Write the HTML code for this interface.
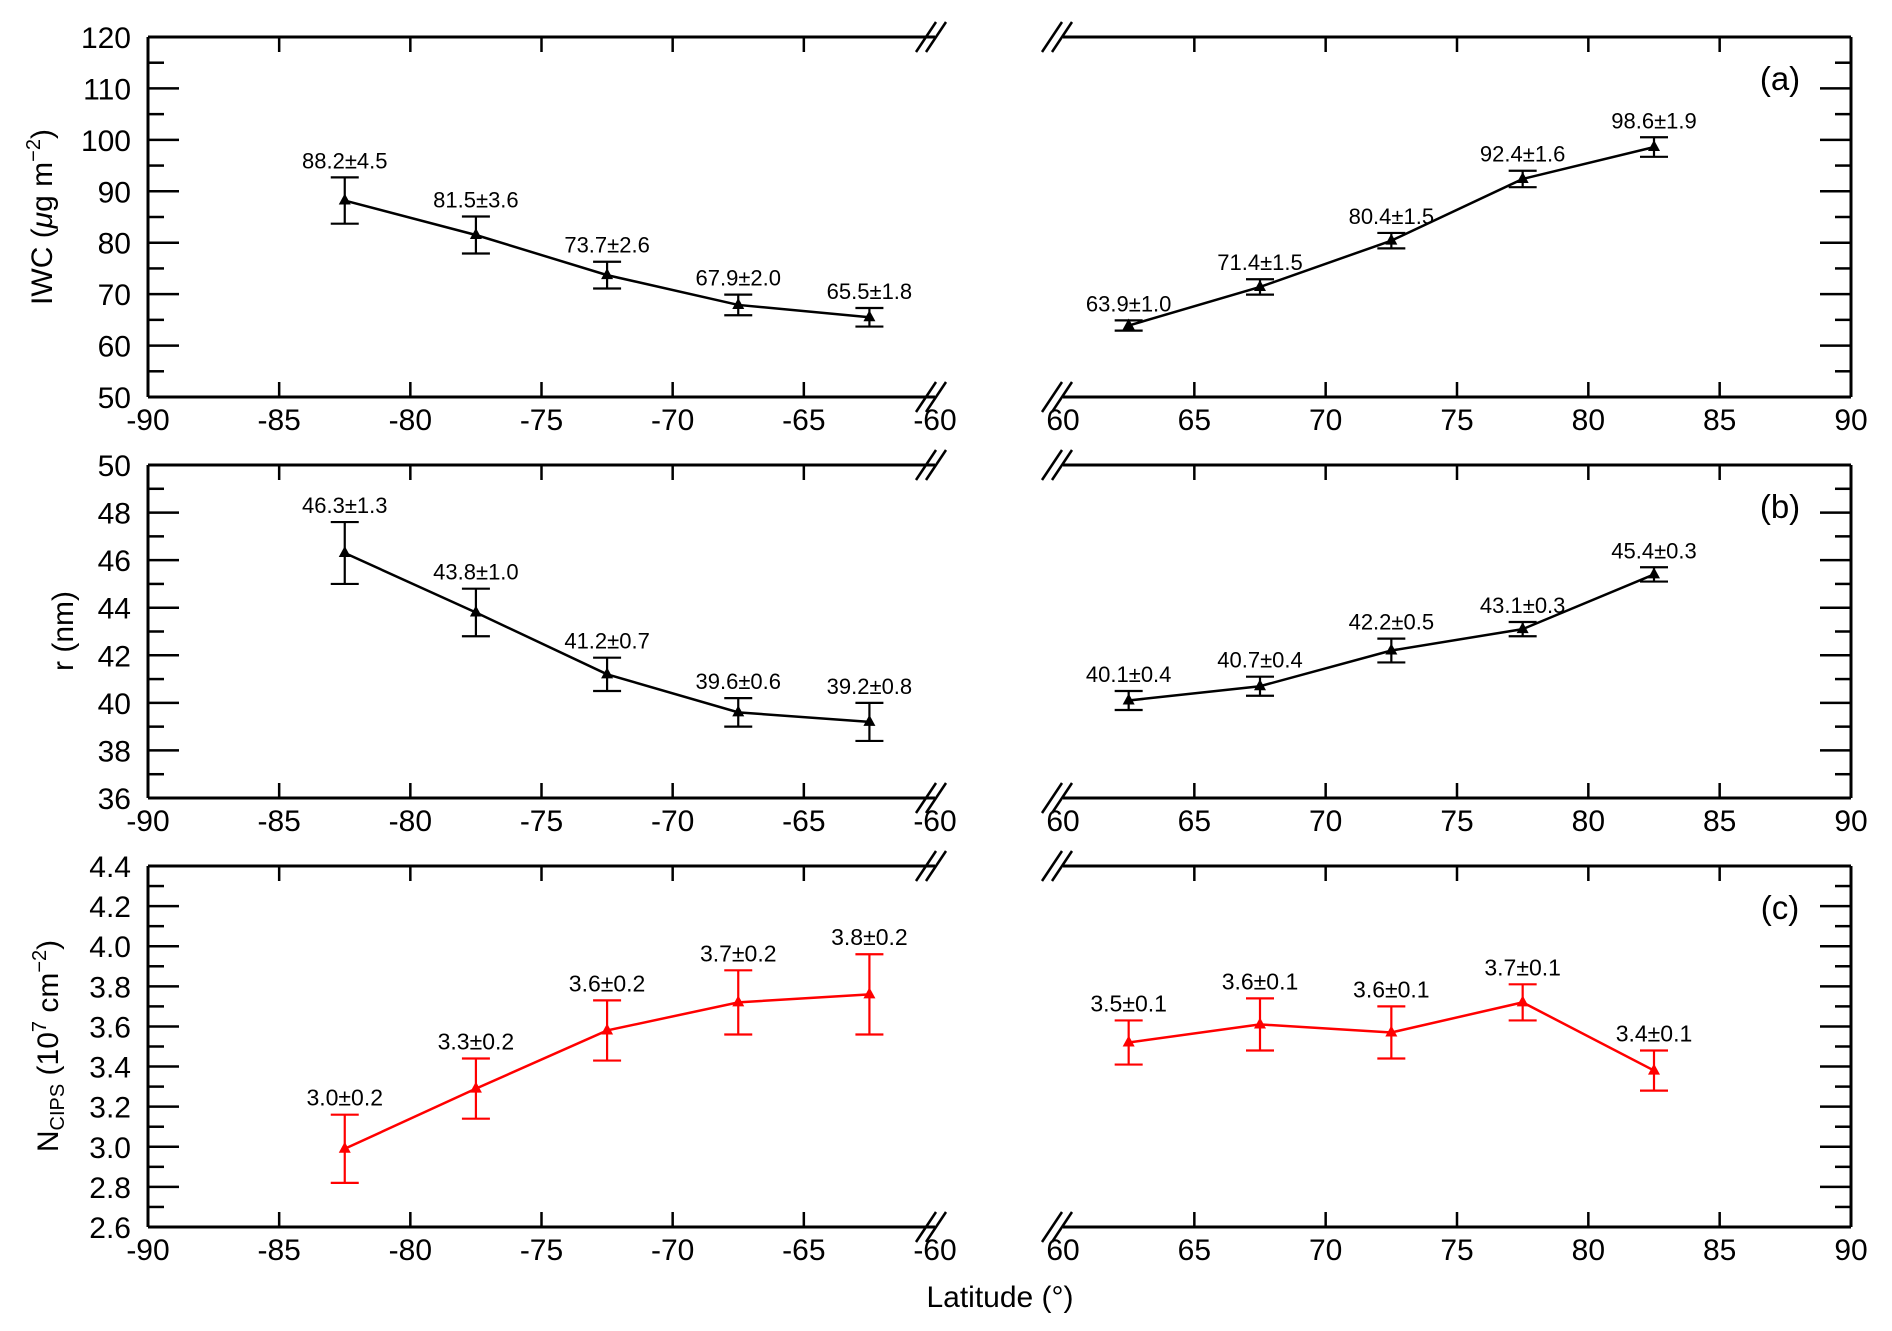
<!DOCTYPE html>
<html><head><meta charset="utf-8">
<style>
html,body{margin:0;padding:0;background:#fff;}
svg{display:block;font-family:"Liberation Sans",sans-serif;}
</style></head>
<body>
<svg id="fig" width="1892" height="1331" viewBox="0 0 1892 1331" xmlns="http://www.w3.org/2000/svg"></svg>
<script>
// ---- data ----
const latSouth = [-82.5, -77.5, -72.5, -67.5, -62.5];
const latNorth = [62.5, 67.5, 72.5, 77.5, 82.5];
const iwcSouth = [88.2, 81.5, 73.7, 67.9, 65.5];
const iwcSouthErr = [4.5, 3.6, 2.6, 2.0, 1.8];
const iwcNorth = [63.9, 71.4, 80.4, 92.4, 98.6];
const iwcNorthErr = [1.0, 1.5, 1.5, 1.6, 1.9];
const rSouth = [46.3, 43.8, 41.2, 39.6, 39.2];
const rSouthErr = [1.3, 1.0, 0.7, 0.6, 0.8];
const rNorth = [40.1, 40.7, 42.2, 43.1, 45.4];
const rNorthErr = [0.4, 0.4, 0.5, 0.3, 0.3];
const nSouth = [2.99, 3.29, 3.58, 3.72, 3.76];
const nSouthErr = [0.17, 0.15, 0.15, 0.16, 0.20];
const nNorth = [3.52, 3.61, 3.57, 3.72, 3.38];
const nNorthErr = [0.11, 0.13, 0.13, 0.09, 0.10];
const nSouthLabels = ["3.0±0.2","3.3±0.2","3.6±0.2","3.7±0.2","3.8±0.2"];
const nNorthLabels = ["3.5±0.1","3.6±0.1","3.6±0.1","3.7±0.1","3.4±0.1"];
const xTicksSouth = [-90,-85,-80,-75,-70,-65,-60];
const xTicksNorth = [60,65,70,75,80,85,90];

const NS="http://www.w3.org/2000/svg";
const svg=document.getElementById('fig');
function mk(tag,attrs,parent,name,inter){const e=document.createElementNS(NS,tag);for(const k in attrs)e.setAttribute(k,attrs[k]);
 
 
 (parent||svg).appendChild(e);return e;}

const XL0=148, XL1=935, XR0=1063, XR1=1851;
function xs(v){return XL0+(v+90)*(XL1-XL0)/30;}
function xn(v){return XR0+(v-60)*(XR1-XR0)/30;}

const panels=[
 {id:'a',top:37,bot:397,ymin:50,ymax:120,major:10,minor:5,fmt:v=>String(v),
  s:iwcSouth,se:iwcSouthErr,n:iwcNorth,ne:iwcNorthErr,color:'#000',fs:22,
  sl:iwcSouth.map((v,i)=>v.toFixed(1)+'±'+iwcSouthErr[i].toFixed(1)),
  nl:iwcNorth.map((v,i)=>v.toFixed(1)+'±'+iwcNorthErr[i].toFixed(1))},
 {id:'b',top:465,bot:798,ymin:36,ymax:50,major:2,minor:1,fmt:v=>String(v),
  s:rSouth,se:rSouthErr,n:rNorth,ne:rNorthErr,color:'#000',fs:22,
  sl:rSouth.map((v,i)=>v.toFixed(1)+'±'+rSouthErr[i].toFixed(1)),
  nl:rNorth.map((v,i)=>v.toFixed(1)+'±'+rNorthErr[i].toFixed(1))},
 {id:'c',top:866,bot:1227,ymin:2.6,ymax:4.4,major:0.2,minor:0.1,fmt:v=>v.toFixed(1),
  s:nSouth,se:nSouthErr,n:nNorth,ne:nNorthErr,color:'#f00',fs:23,sl:nSouthLabels,nl:nNorthLabels}
];

panels.forEach(p=>{
 const g=mk('g',{},svg,'panel-'+p.id,false);
 const ys=v=>p.bot-(v-p.ymin)*(p.bot-p.top)/(p.ymax-p.ymin);
 const ax={stroke:'#000','stroke-width':3,fill:'none'};
 mk('line',Object.assign({x1:XL0,y1:p.top,x2:XL0,y2:p.bot},ax),g,'y-axis-left',false);
 mk('line',Object.assign({x1:XL0,y1:p.top,x2:XL1,y2:p.top},ax),g,'top-axis-south',false);
 mk('line',Object.assign({x1:XL0,y1:p.bot,x2:XL1,y2:p.bot},ax),g,'x-axis-south',false);
 mk('line',Object.assign({x1:XR1,y1:p.top,x2:XR1,y2:p.bot},ax),g,'y-axis-right',false);
 mk('line',Object.assign({x1:XR0,y1:p.top,x2:XR1,y2:p.top},ax),g,'top-axis-north',false);
 mk('line',Object.assign({x1:XR0,y1:p.bot,x2:XR1,y2:p.bot},ax),g,'x-axis-north',false);
 [[XL1-4,p.top],[XL1-4,p.bot],[XR0-6,p.top],[XR0-6,p.bot]].forEach(([bx,by])=>{
  [-5,5].forEach(o=>mk('line',{x1:bx+o-10,y1:by+15,x2:bx+o+10,y2:by-15,stroke:'#000','stroke-width':2.5},g,'axis-break-mark',false));
 });
 const nMin=Math.round((p.ymax-p.ymin)/p.minor);
 for(let i=0;i<=nMin;i++){
  const v=p.ymin+i*p.minor, y=ys(v), isMaj=i%2===0, L=isMaj?31:16;
  mk('line',{x1:XL0,y1:y,x2:XL0+L,y2:y,stroke:'#000','stroke-width':2.5},g,'y-tick-left',false);
  mk('line',{x1:XR1,y1:y,x2:XR1-L,y2:y,stroke:'#000','stroke-width':2.5},g,'y-tick-right',false);
  if(isMaj){const t=mk('text',{x:131,y:y+11,'text-anchor':'end','font-size':30},g,'y-tick-label',false);t.textContent=p.fmt(v);}
 }
 xTicksSouth.forEach(v=>{const x=xs(v);
  if(v>-90&&v<-60){mk('line',{x1:x,y1:p.top,x2:x,y2:p.top+15,stroke:'#000','stroke-width':2.5},g,'x-tick-top',false);
   mk('line',{x1:x,y1:p.bot,x2:x,y2:p.bot-15,stroke:'#000','stroke-width':2.5},g,'x-tick-bottom',false);}
  const t=mk('text',{x:x,y:p.bot+33,'text-anchor':'middle','font-size':30},g,'x-tick-label',false);t.textContent=v;});
 xTicksNorth.forEach(v=>{const x=xn(v);
  if(v>60&&v<90){mk('line',{x1:x,y1:p.top,x2:x,y2:p.top+15,stroke:'#000','stroke-width':2.5},g,'x-tick-top',false);
   mk('line',{x1:x,y1:p.bot,x2:x,y2:p.bot-15,stroke:'#000','stroke-width':2.5},g,'x-tick-bottom',false);}
  const t=mk('text',{x:x,y:p.bot+33,'text-anchor':'middle','font-size':30},g,'x-tick-label',false);t.textContent=v;});
 const pl=mk('text',{x:1780,y:p.top+53,'text-anchor':'middle','font-size':33},g,'panel-label',false);pl.textContent='('+p.id+')';
 [[latSouth,p.s,p.se,p.sl,xs,'south'],[latNorth,p.n,p.ne,p.nl,xn,'north']].forEach(([lx,vals,errs,labs,xf,nm])=>{
  const pts=lx.map((l,i)=>xf(l)+','+ys(vals[i])).join(' ');
  mk('polyline',{points:pts,fill:'none',stroke:p.color,'stroke-width':2.5},g,'line-'+nm,false);
  lx.forEach((l,i)=>{
   const x=xf(l),y=ys(vals[i]),yh=ys(vals[i]+errs[i]),yl=ys(vals[i]-errs[i]);
   const eb=mk('g',{stroke:p.color,'stroke-width':2.2},g,'error-bar',false);
   mk('line',{x1:x,y1:yh,x2:x,y2:yl},eb,'error-bar-stem',false);
   mk('line',{x1:x-14,y1:yh,x2:x+14,y2:yh},eb,'error-bar-cap-top',false);
   mk('line',{x1:x-14,y1:yl,x2:x+14,y2:yl},eb,'error-bar-cap-bottom',false);
   mk('polygon',{points:`${x},${y-7} ${x-6},${y+4} ${x+6},${y+4}`,fill:p.color},g,'data-point',false);
   const t=mk('text',{x:x,y:yh-9,'text-anchor':'middle','font-size':p.fs},g,'value-label',false);t.textContent=labs[i];
  });
 });
});

let t=mk('text',{transform:'translate(52,217) rotate(-90)','text-anchor':'middle','font-size':30},svg,'y-axis-title-iwc',false);
t.innerHTML='IWC (<tspan font-style="italic">μ</tspan>g m<tspan dy="-12" font-size="20">−2</tspan><tspan dy="12">)</tspan>';
t=mk('text',{transform:'translate(73,631) rotate(-90)','text-anchor':'middle','font-size':30},svg,'y-axis-title-r',false);
t.textContent='r (nm)';
t=mk('text',{transform:'translate(58,1046) rotate(-90)','text-anchor':'middle','font-size':30},svg,'y-axis-title-ncips',false);
t.innerHTML='N<tspan font-size="20" dy="6">CIPS</tspan><tspan dy="-6"> (10</tspan><tspan dy="-12" font-size="20">7</tspan><tspan dy="12"> cm</tspan><tspan dy="-12" font-size="20">−2</tspan><tspan dy="12">)</tspan>';
t=mk('text',{x:1000,y:1307,'text-anchor':'middle','font-size':30},svg,'x-axis-title',false);
t.textContent='Latitude (°)';
</script>
</body></html>
